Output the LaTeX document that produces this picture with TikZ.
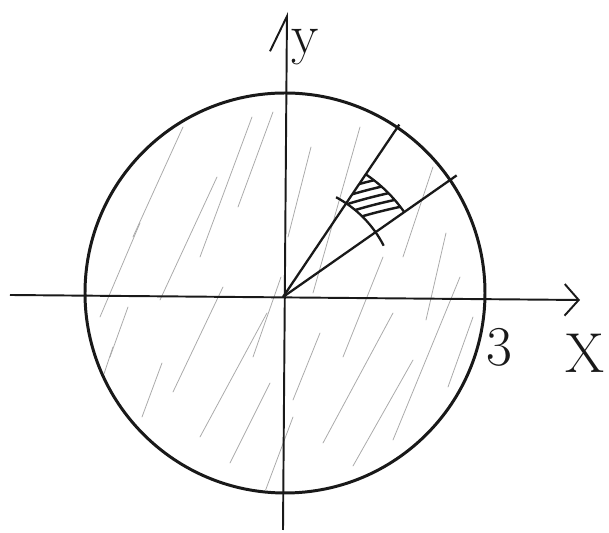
\documentclass[tikz,border=0pt]{standalone}
\usepackage{tikz}
\usetikzlibrary{arrows.meta,calc}
\definecolor{inkcol}{RGB}{25,25,25}
\definecolor{shadecol}{RGB}{170,170,170}
\tikzset{
  ax/.style={draw=inkcol,line width=1.1pt},
  rim/.style={draw=inkcol,line width=1.7pt},
  ray/.style={draw=inkcol,line width=1.3pt},
  sh/.style={draw=shadecol,line width=0.45pt,line cap=round},
  hs/.style={draw=inkcol,line width=1.4pt,line cap=round},
  lbl/.style={inner sep=0pt,text=inkcol,font=\fontsize{32}{32}\selectfont}
}
\begin{document}
\begin{tikzpicture}[x=0.02cm,y=0.02cm]
  \useasboundingbox (-283,-236) rectangle (326,297);
  \coordinate (O) at (0,0);
  % light shading of the disk
  \begin{scope}
    \clip (2,4) circle (198);
    \foreach \a/\b/\c/\d in {-183/-20/-143/74, -173/-60/-155/-10, -141/-120/-121/-66,
      -123/-3/-66/120, -83/40/-31/180, -150/60/-100/170, -110/-95/-60/10,
      -83/-140/-16/-16, -53/-166/-13/-86, -30/-60/-2/20, -45/90/-10/185,
      10/-103/37/-36, 40/-146/110/-16, 70/-169/130/-63, 110/-143/177/20,
      143/-23/163/64, 30/4/77/170, 5/60/28/150, 120/40/150/130,
      60/-60/100/40, -190/-110/-170/-50, -20/-200/10/-120, 165/-90/190/-20}{
      \draw[sh] (\a,\b) -- (\c,\d);}
  \end{scope}
  % axes
  \coordinate (xl) at (-273,2);
  \coordinate (xr) at (297,-3);
  \coordinate (yb) at (0,-233);
  \coordinate (yt) at (4,285);
  \draw[ax,-{Straight Barb[length=8pt,width=18pt]}] (xl) -- (xr);
  \draw[ax,-{Straight Barb[left,length=20pt,width=19pt]}] (yb) -- (yt);
  % circle of radius 3
  \draw[rim] (2,4) circle (200);
  % two rays
  \coordinate (r1) at (56:208);
  \coordinate (r2) at (35:212);
  \draw[ray] (O) -- (r1);
  \draw[ray] (O) -- (r2);
  % hatched piece
  \begin{scope}
    \clip (35:113) -- (35:148) arc[start angle=35,end angle=56,radius=148]
      -- (56:113) arc[start angle=56,end angle=35,radius=113] -- cycle;
    \foreach \c in {34,42,...,82}{
      \draw[hs] ([shift={(110:\c)}]200:60) to[bend left=12] ([shift={(110:\c)}]20:200);}
  \end{scope}
  \draw[ray] (62:113) arc[start angle=62,end angle=27,radius=113];
  \draw[ray] (56:148) arc[start angle=56,end angle=35,radius=148];
  % labels
  \node[lbl] (three) at (216,-50) {3};
  \node[lbl] (xlab) at (302,-56) {X};
  \node[lbl] (ylab) at (22,250) {y};
\end{tikzpicture}
\end{document}
